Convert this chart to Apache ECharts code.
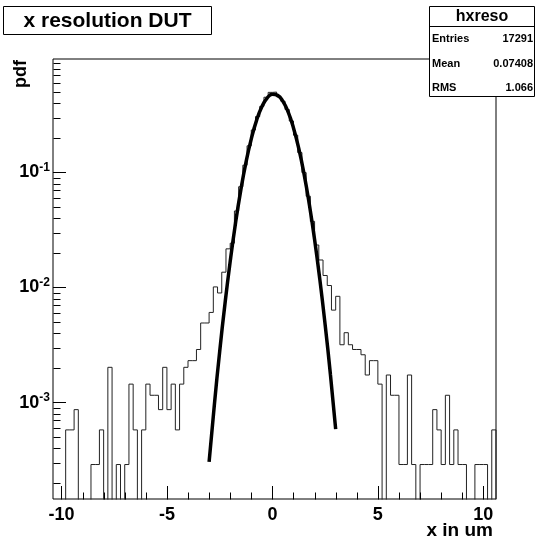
<!DOCTYPE html>
<html><head><meta charset="utf-8">
<script src="https://cdn.jsdelivr.net/npm/echarts@6/dist/echarts.min.js"></script>
<style>html,body{margin:0;padding:0;background:#fff}#c{width:535px;height:545px}</style>
</head><body><div id="c"></div>
<script>
// ---- data ----
const binStart = -10.4;
const binWidth = 0.2;
const entries = 17291;
const binCounts = [
  0,0,0,2,2,3,0,0,0,1, 1,2,0,7,0,1,0,1,5,2,
  0,2,5,4,4,3,7,3,5,2, 5,7,8,8,10,17,17,21,35,31,
  47,75,84,160,260,400,590,810,1060,1300, 1560,1720,1730,1570,1440,1220,970,730,515,345,
  215,130,81,60,44,36,22,29,11,14, 11,10,10,9,6,8,8,5,0,6,
  4,4,1,1,6,1,0,1,1,1, 3,2,1,4,1,2,1,1,0,0,
  1,1,1,0,2
];
const fitX = [-3,-2.75,-2.5,-2.25,-2,-1.75,-1.5,-1.25,-1,-0.75,-0.5,-0.25,0,0.25,0.5,0.75,1,1.25,1.5,1.75,2,2.25,2.5,2.75,3];
const fitY = [3.05e-4,9.6e-4,2.76e-3,7.16e-3,0.01687,0.0361,0.0699,0.1231,0.1962,0.2839,0.3724,0.4431,0.4782,0.468,0.4154,0.3345,0.2442,0.1618,0.0972,0.0529,0.02615,0.01171,4.76e-3,1.76e-3,5.87e-4];
const xMajorTicks = [-10,-5,0,5,10];
const xMinorTicks = [-10,-9,-8,-7,-6,-5,-4,-3,-2,-1,0,1,2,3,4,5,6,7,8,9,10];
const yMinorTicks = [2e-4,3e-4,4e-4,5e-4,6e-4,7e-4,8e-4,9e-4,2e-3,3e-3,4e-3,5e-3,6e-3,7e-3,8e-3,9e-3,2e-2,3e-2,4e-2,5e-2,6e-2,7e-2,8e-2,9e-2,0.2,0.3,0.4,0.5,0.6,0.7,0.8,0.9];
const statNames = ['Entries','Mean','RMS'];
const statValues = ['17291','0.07408','1.066'];
const xMin = -10.4, xMax = 10.6, yMin = 1.45e-4, yMax = 0.97;

// ---- build ----
const FONT = '"Liberation Sans", Arial, Helvetica, sans-serif';
const floorVal = 1e-6;
const histData = [];
for (let i = 0; i < binCounts.length; i++) {
  const v = binCounts[i] > 0 ? binCounts[i] / (entries * binWidth) : floorVal;
  histData.push([binStart + i * binWidth, v]);
}
histData.push([binStart + binCounts.length * binWidth, floorVal]);
const fitData = fitX.map((x, i) => [x, fitY[i]]);

const chart = echarts.init(document.getElementById('c'), null, {renderer: 'canvas'});
function tickLine(p, dx, dy) {
  const x = Math.round(p[0]) + 0.5, y = Math.round(p[1]) + 0.5;
  return {type: 'line', shape: {x1: x, y1: y, x2: x + dx, y2: y + dy}, style: {stroke: '#000', lineWidth: 1}};
}
const statsGraphics = [];
statNames.forEach((n, i) => {
  const yc = 39 + i * 24.5;
  statsGraphics.push({type: 'text', x: 432, y: yc, style: {text: n, font: 'bold 11px ' + FONT, fill: '#000', align: 'left', verticalAlign: 'middle'}});
  statsGraphics.push({type: 'text', x: 533, y: yc, style: {text: statValues[i], font: 'bold 11px ' + FONT, fill: '#000', align: 'right', verticalAlign: 'middle'}});
});

chart.setOption({
  animation: false,
  grid: {left: 53, top: 59, width: 443, height: 440, show: true, borderColor: '#000', borderWidth: 1, containLabel: false},
  xAxis: {
    type: 'value', min: xMin, max: xMax,
    axisLine: {show: false, onZero: false}, splitLine: {show: false},
    axisTick: {show: true, inside: true, length: 13, customValues: xMajorTicks, lineStyle: {color: '#000'}},
    axisLabel: {customValues: xMajorTicks, fontSize: 18, fontWeight: 'bold', fontFamily: FONT, color: '#000', margin: 7}
  },
  yAxis: {
    type: 'log', logBase: 10, min: yMin, max: yMax,
    axisLine: {show: false, onZero: false}, splitLine: {show: false},
    axisTick: {show: true, inside: true, length: 13, lineStyle: {color: '#000'}},
    axisLabel: {
      showMinLabel: false, showMaxLabel: false, margin: 3,
      formatter: v => '{b|10}{s|' + Math.round(Math.log10(v)) + '}',
      rich: {
        b: {fontSize: 18, fontWeight: 'bold', fontFamily: FONT, color: '#000', lineHeight: 22},
        s: {fontSize: 12, fontWeight: 'bold', fontFamily: FONT, color: '#000', lineHeight: 13, verticalAlign: 'top'}
      }
    }
  },
  series: [
    {type: 'line', data: histData, step: 'end', showSymbol: false, clip: true,
     lineStyle: {color: '#222', width: 1}, z: 2},
    {type: 'line', data: fitData, smooth: true, showSymbol: false, clip: true,
     lineStyle: {color: '#000', width: 3.5}, z: 5},
    {type: 'custom', data: yMinorTicks.map(v => [xMin, v]), z: 6, clip: false,
     renderItem: (params, api) => tickLine(api.coord([xMin, api.value(1)]), 7, 0)},
    {type: 'custom', data: xMinorTicks.map(v => [v, yMin]), z: 6, clip: false,
     renderItem: (params, api) => tickLine(api.coord([api.value(0), yMin]), 0, -7)}
  ],
  graphic: [
    {type: 'rect', shape: {x: 3.5, y: 6.5, width: 208, height: 28}, style: {fill: '#fff', stroke: '#000', lineWidth: 1}},
    {type: 'text', x: 107.5, y: 21, style: {text: 'x resolution DUT', font: 'bold 21px ' + FONT, fill: '#000', align: 'center', verticalAlign: 'middle'}},
    {type: 'rect', shape: {x: 429.5, y: 6.5, width: 105, height: 90}, style: {fill: '#fff', stroke: '#000', lineWidth: 1}},
    {type: 'line', shape: {x1: 429.5, y1: 26.5, x2: 534.5, y2: 26.5}, style: {stroke: '#000', lineWidth: 1}},
    {type: 'text', x: 482, y: 17, style: {text: 'hxreso', font: 'bold 16px ' + FONT, fill: '#000', align: 'center', verticalAlign: 'middle'}},
    ...statsGraphics,
    {type: 'text', x: 21, y: 60, rotation: Math.PI / 2, style: {text: 'pdf', font: 'bold 18px ' + FONT, fill: '#000', align: 'right', verticalAlign: 'middle'}},
    {type: 'text', x: 493, y: 531, style: {text: 'x in um', font: 'bold 19px ' + FONT, fill: '#000', align: 'right', verticalAlign: 'middle'}}
  ]
});
</script>
</body></html>
